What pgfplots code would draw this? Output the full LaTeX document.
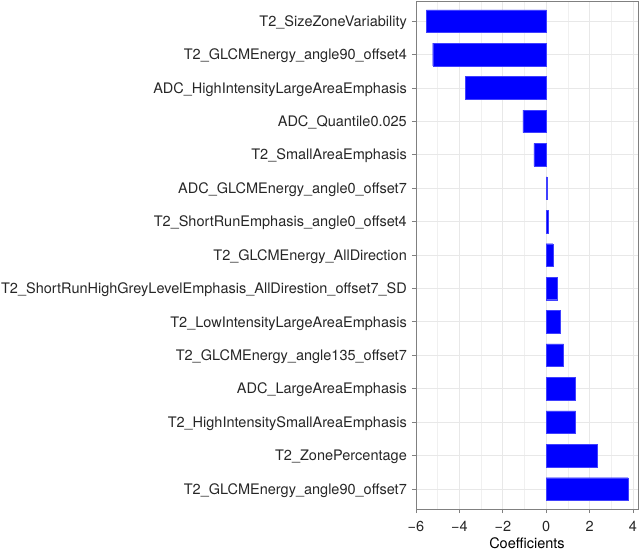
\documentclass[border=0pt]{standalone}
\usepackage{pgfplots}
\pgfplotsset{compat=1.18}
\usepackage{fontspec}
\setmainfont{TeX Gyre Heros}
\begin{document}
\begin{tikzpicture}
\begin{axis}[
  at={(416bp,43bp)}, anchor=south west,
  scale only axis, width=222bp, height=508bp,
  xbar, bar width=0.675, bar shift=0pt,
  xmin=-6.0, xmax=4.23,
  ymin=0.4, ymax=15.6, y dir=reverse,
  ytick={1,...,15},
  yticklabels={T2\_SizeZoneVariability,T2\_GLCMEnergy\_angle90\_offset4,ADC\_HighIntensityLargeAreaEmphasis,ADC\_Quantile0.025,T2\_SmallAreaEmphasis,ADC\_GLCMEnergy\_angle0\_offset7,T2\_ShortRunEmphasis\_angle0\_offset4,T2\_GLCMEnergy\_AllDirection,T2\_ShortRunHighGreyLevelEmphasis\_AllDirestion\_offset7\_SD,T2\_LowIntensityLargeAreaEmphasis,T2\_GLCMEnergy\_angle135\_offset7,ADC\_LargeAreaEmphasis,T2\_HighIntensitySmallAreaEmphasis,T2\_ZonePercentage,T2\_GLCMEnergy\_angle90\_offset7},
  xtick={-6,-4,-2,0,2,4},
  xticklabels={−6,−4,−2,0,2,4},
  minor xtick={-5,-3,-1,1,3},
  grid=both,
  major grid style={color=black!9, line width=0.7bp},
  minor grid style={color=black!6, line width=0.5bp},
  axis line style={draw=black!50, line width=0.7bp},
  tick style={draw=black!50, line width=0.7bp},
  tick align=outside, major tick length=4bp, minor tick length=0pt,
  xtick pos=lower, ytick pos=left,
  yticklabel style={font=\fontsize{14.5bp}{17bp}\selectfont, text=black!85, anchor=base east, inner sep=0pt, xshift=-5bp, yshift=-5.2bp},
  xticklabel style={font=\fontsize{14.5bp}{17bp}\selectfont, text=black!85, anchor=north, inner sep=0pt, yshift=-8bp},
  xlabel={Coefficients},
  x label style={font=\fontsize{14.5bp}{17bp}\selectfont, at={(axis description cs:0.5,0)}, anchor=north, inner sep=0pt, yshift=-28bp},
]
\addplot[fill=blue, draw=blue!75, line width=0.3bp] coordinates {
(-5.52,1) (-5.23,2) (-3.72,3) (-1.07,4) (-0.57,5) (0.04,6) (0.10,7) (0.31,8) (0.52,9) (0.66,10) (0.80,11) (1.32,12) (1.35,13) (2.36,14) (3.77,15)};
\end{axis}
\pgfresetboundingbox
\path (0,0) rectangle (643bp,552bp);
\end{tikzpicture}
\end{document}
